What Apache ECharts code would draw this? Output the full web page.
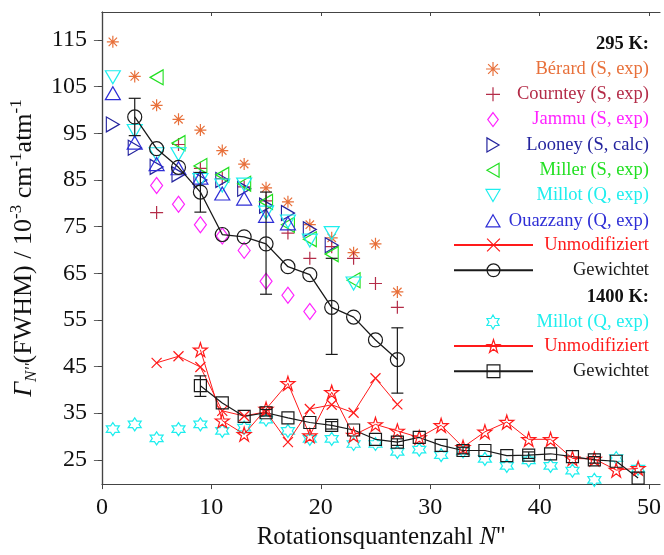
<!DOCTYPE html>
<html><head><meta charset="utf-8">
<script src="https://cdn.jsdelivr.net/npm/echarts@6/dist/echarts.min.js"></script>
<style>html,body{margin:0;padding:0;background:#fff}#c{width:664px;height:555px}</style>
</head><body><div id="c"></div>
<script>
// ---------- ticks ----------
const xTicks = [0, 10, 20, 30, 40, 50];
const yTicks = [25, 35, 45, 55, 65, 75, 85, 95, 105, 115];

// ---------- 295 K ----------
const berardN = [1, 3, 5, 7, 9, 11, 13, 15, 17, 19, 21, 23, 25, 27];
const berardG = [114.6, 107.2, 101.0, 98.0, 95.7, 91.3, 88.4, 83.3, 80.3, 75.4, 72.6, 69.4, 71.3, 61.0];

const courtneyN = [5, 7, 9, 11, 13, 15, 17, 19, 21, 23, 25, 27];
const courtneyG = [78.0, 92.6, 87.5, 85.3, 83.5, 80.5, 73.6, 68.2, 70.7, 68.2, 62.8, 57.7];

const jammuN = [5, 7, 9, 11, 13, 15, 17, 19];
const jammuG = [83.8, 79.8, 75.4, 73.0, 69.9, 63.3, 60.3, 56.8];

const looneyN = [1, 3, 5, 7, 9, 11, 13, 15, 17, 19, 21];
const looneyG = [96.9, 91.9, 87.8, 86.2, 85.0, 85.0, 83.1, 79.5, 77.9, 74.4, 71.0];

const millerN = [5, 7, 9, 11, 13, 15, 17, 19, 21, 23];
const millerG = [107.0, 92.9, 88.0, 86.1, 84.2, 80.3, 75.4, 72.3, 69.1, 63.5];

const millot295N = [1, 3, 5, 7, 9, 11, 13, 15, 17, 19, 21, 23];
const millot295G = [107.0, 95.5, 90.5, 90.5, 85.0, 83.8, 84.0, 78.0, 76.1, 72.0, 73.6, 62.8];

const ouazzanyN = [1, 3, 5, 7, 9, 11, 13, 15, 17];
const ouazzanyG = [103.6, 93.0, 88.4, 87.5, 85.5, 82.1, 81.0, 77.3, 75.7];

const unmod295N = [5, 7, 9, 11, 13, 15, 17, 19, 21, 23, 25, 27];
const unmod295G = [45.8, 47.2, 44.9, 35.5, 34.4, 35.3, 28.8, 35.9, 36.8, 35.1, 42.5, 36.9];

const gew295N = [3, 5, 7, 9, 11, 13, 15, 17, 19, 21, 23, 25, 27];
const gew295G = [98.5, 91.7, 87.7, 82.4, 73.3, 72.8, 71.3, 66.4, 64.7, 57.7, 55.6, 50.7, 46.5];

const gew295ErrN = [3, 9, 15, 21, 27];
const gew295ErrLo = [94.5, 78.1, 60.5, 47.6, 39.3];
const gew295ErrHi = [102.5, 86.6, 82.4, 68.2, 53.3];

// ---------- 1400 K ----------
const millot1400N = [1, 3, 5, 7, 9, 11, 13, 15, 17, 19, 21, 23, 25, 27, 29, 31, 33, 35, 37, 39, 41, 43, 45, 47, 49];
const millot1400G = [31.6, 32.6, 29.6, 31.6, 32.6, 31.2, 31.9, 33.6, 31.2, 29.5, 29.5, 28.4, 28.4, 26.7, 27.2, 26.0, 26.8, 25.2, 23.7, 24.9, 23.7, 22.7, 20.7, 25.4, 23.1];

const unmod1400N = [9, 11, 13, 15, 17, 19, 21, 23, 25, 27, 29, 31, 33, 35, 37, 39, 41, 43, 45, 47, 49];
const unmod1400G = [48.6, 33.4, 30.5, 35.9, 41.4, 30.2, 39.5, 30.3, 32.6, 31.2, 29.8, 32.4, 27.7, 31.0, 33.1, 29.4, 29.4, 25.3, 25.2, 22.8, 23.2];

const gew1400N = [9, 11, 13, 15, 17, 19, 21, 23, 25, 27, 29, 31, 33, 35, 37, 39, 41, 43, 45, 47, 49];
const gew1400G = [40.9, 37.2, 34.3, 35.1, 34.0, 33.0, 32.4, 31.4, 29.4, 28.8, 29.8, 28.1, 27.0, 27.0, 25.9, 26.0, 26.3, 25.7, 25.0, 24.7, 21.1];

const gew1400ErrN = [9, 15, 21, 27, 33, 39, 45];
const gew1400ErrLo = [38.6, 34.4, 31.6, 28.1, 26.3, 25.3, 24.3];
const gew1400ErrHi = [43.0, 35.8, 33.2, 29.5, 27.7, 26.7, 25.7];

// ---------- labels ----------
const labels = {
  berard: 'Bérard (S, exp)',
  courtney: 'Courntey (S, exp)',
  jammu: 'Jammu (S, exp)',
  looney: 'Looney (S, calc)',
  miller: 'Miller (S, exp)',
  millot295: 'Millot (Q, exp)',
  ouazzany: 'Ouazzany (Q, exp)',
  unmod295: 'Unmodifiziert',
  gew295: 'Gewichtet',
  millot1400: 'Millot (Q, exp)',
  unmod1400: 'Unmodifiziert',
  gew1400: 'Gewichtet'
};
const header295 = '295 K:';
const header1400 = '1400 K:';

// ---------- styles ----------
const FONT = 'Liberation Serif';
const col = {
  berard: '#E8703A', courtney: '#B42C48', jammu: '#FF22FF', looney: '#24249E',
  miller: '#22E022', millot295: '#1EEEEE', ouazzany: '#2E2ED6',
  unmod295: '#FF1A1A', gew295: '#1A1A1A', millot1400: '#1EEEEE', unmod1400: '#FF1A1A', gew1400: '#1A1A1A'
};
const SYM = {
  asterisk: 'path://M0,-1L0,1M-1,0L1,0M-0.7,-0.7L0.7,0.7M-0.7,0.7L0.7,-0.7',
  plus: 'path://M0,-1L0,1M-1,0L1,0',
  cross: 'path://M-1,-1L1,1M-1,1L1,-1',
  diamond: 'path://M0,-1L0.75,0L0,1L-0.75,0Z',
  tRight: 'path://M1,0L-0.5,0.866L-0.5,-0.866Z',
  tLeft: 'path://M-1,0L0.5,0.866L0.5,-0.866Z',
  tDown: 'path://M0,1L0.866,-0.5L-0.866,-0.5Z',
  tUp: 'path://M0,-1L0.866,0.5L-0.866,0.5Z',
  hexagram: 'path://M0,-1L0.289,-0.5L0.866,-0.5L0.577,0L0.866,0.5L0.289,0.5L0,1L-0.289,0.5L-0.866,0.5L-0.577,0L-0.866,-0.5L-0.289,-0.5Z',
  pentagram: 'path://M0,-1L0.2245,-0.309L0.951,-0.309L0.363,0.118L0.588,0.809L0,0.382L-0.588,0.809L-0.363,0.118L-0.951,-0.309L-0.2245,-0.309Z'
};
const zip = (xs, ys) => xs.map((x, i) => [x, ys[i]]);
const zip3 = (xs, a, b) => xs.map((x, i) => [x, a[i], b[i]]);
const TR = 'rgba(0,0,0,0)';

function scatter(key, data, symbol, size) {
  return {
    id: key, name: key, type: 'scatter', data: data, symbol: symbol, symbolSize: size,
    itemStyle: { color: TR, borderColor: col[key], borderWidth: 1.2, opacity: 1 },
    emphasis: { disabled: true }, z: 3
  };
}
function lineS(key, data, symbol, size, lw) {
  return {
    id: key, name: key, type: 'line', data: data, symbol: symbol, symbolSize: size, showAllSymbol: true,
    color: col[key],
    lineStyle: { color: col[key], width: lw },
    itemStyle: { color: TR, borderColor: col[key], borderWidth: 1.2 },
    emphasis: { disabled: true }, animation: false, z: 4
  };
}
function errS(key, data) {
  return {
    id: key, name: key, type: 'custom', data: data, z: 5,
    encode: { x: 0, y: [1, 2] },
    renderItem: function (params, api) {
      const x = api.value(0);
      const lo = api.coord([x, api.value(1)]);
      const hi = api.coord([x, api.value(2)]);
      const w = 6;
      const st = { stroke: '#1A1A1A', lineWidth: 1.2 };
      return { type: 'group', children: [
        { type: 'line', shape: { x1: lo[0], y1: lo[1], x2: hi[0], y2: hi[1] }, style: st },
        { type: 'line', shape: { x1: lo[0] - w, y1: lo[1], x2: lo[0] + w, y2: lo[1] }, style: st },
        { type: 'line', shape: { x1: hi[0] - w, y1: hi[1], x2: hi[0] + w, y2: hi[1] }, style: st }
      ]};
    }
  };
}

const series = [
  scatter('berard', zip(berardN, berardG), SYM.asterisk, 12),
  scatter('courtney', zip(courtneyN, courtneyG), SYM.plus, 13),
  scatter('jammu', zip(jammuN, jammuG), SYM.diamond, [12, 16]),
  scatter('looney', zip(looneyN, looneyG), SYM.tRight, [13, 15]),
  scatter('miller', zip(millerN, millerG), SYM.tLeft, [13, 15]),
  scatter('millot295', zip(millot295N, millot295G), SYM.tDown, [15, 13]),
  scatter('ouazzany', zip(ouazzanyN, ouazzanyG), SYM.tUp, [15, 13]),
  lineS('unmod295', zip(unmod295N, unmod295G), SYM.cross, 10, 1),
  lineS('gew295', zip(gew295N, gew295G), 'circle', 14, 1.3),
  errS('gew295err', zip3(gew295ErrN, gew295ErrLo, gew295ErrHi)),
  scatter('millot1400', zip(millot1400N, millot1400G), SYM.hexagram, 13),
  lineS('unmod1400', zip(unmod1400N, unmod1400G), SYM.pentagram, 14, 1),
  lineS('gew1400', zip(gew1400N, gew1400G), 'rect', 12, 1.2),
  errS('gew1400err', zip3(gew1400ErrN, gew1400ErrLo, gew1400ErrHi))
];

// legend helpers
const keyIndex = Object.keys(labels);
const rich = {};
keyIndex.forEach((k, i) => {
  rich['k' + i] = { color: col[k], fontFamily: FONT, fontSize: 18.5, lineHeight: 20, align: 'right' };
});
function legendFor(keys, top, iw, ih, tw) {
  const r = {};
  keys.forEach(k => { const i = keyIndex.indexOf(k); r['k' + i] = Object.assign({}, rich['k' + i], { width: tw }); });
  return {
    orient: 'vertical', right: 15, top: top, padding: 0, itemGap: 5.3,
    itemWidth: iw, itemHeight: ih, selectedMode: false,
    data: keys.map(k => ({ name: k, itemStyle: { color: TR, borderColor: col[k], borderWidth: 1.2 }, lineStyle: { color: col[k] } })),
    formatter: name => '{k' + keyIndex.indexOf(name) + '|' + labels[name] + '}',
    textStyle: { fontFamily: FONT, fontSize: 18.5, lineHeight: 20, rich: r }
  };
}

const axisCol = '#444';
const option = {
  animation: false,
  backgroundColor: '#fff',
  grid: { left: 99, right: 4, top: 12, bottom: 62, containLabel: false },
  title: [
    { text: header295, right: 15, top: 34, padding: 0,
      textStyle: { fontFamily: FONT, fontSize: 18.5, fontWeight: 'bold', color: '#111', lineHeight: 20 } },
    { text: header1400, right: 15, top: 287, padding: 0,
      textStyle: { fontFamily: FONT, fontSize: 18.5, fontWeight: 'bold', color: '#111', lineHeight: 20 } }
  ],
  legend: [
    legendFor(['berard', 'courtney', 'jammu', 'looney', 'miller', 'millot295', 'ouazzany'], 59, 14, 14, 144),
    legendFor(['unmod295', 'gew295'], 235, 79, 16, 111),
    legendFor(['millot1400'], 312, 14, 14, 144),
    legendFor(['unmod1400', 'gew1400'], 336, 79, 16, 111)
  ],
  xAxis: [
    { type: 'value', min: 0, max: 51, position: 'bottom',
      axisLine: { show: true, lineStyle: { color: axisCol, width: 1.2 } },
      axisTick: { show: true, inside: false, length: 5, customValues: xTicks, lineStyle: { color: axisCol } },
      axisLabel: { customValues: xTicks, fontFamily: FONT, fontSize: 24, color: '#111', margin: 12 },
      splitLine: { show: false },
      name: '{n|Rotationsquantenzahl }{i|N}{n|\'\'}', nameLocation: 'middle', nameGap: 36,
      nameTextStyle: { fontFamily: FONT, fontSize: 25, color: '#111',
        rich: { n: { fontFamily: FONT, fontSize: 25, color: '#111' }, i: { fontFamily: FONT, fontSize: 25, fontStyle: 'italic', color: '#111' } } }
    },
    { type: 'value', min: 0, max: 51, position: 'top',
      axisLine: { show: true, lineStyle: { color: axisCol, width: 1.2 } },
      axisTick: { show: true, inside: true, length: 4, customValues: xTicks, lineStyle: { color: axisCol } },
      axisLabel: { show: false }, splitLine: { show: false } }
  ],
  yAxis: [
    { type: 'value', min: 19.8, max: 121, position: 'left',
      axisLine: { show: true, lineStyle: { color: '#666', width: 1.2 } },
      axisTick: { show: true, inside: false, length: 8, customValues: yTicks, lineStyle: { color: '#666' } },
      axisLabel: { customValues: yTicks, fontFamily: FONT, fontSize: 24, color: '#111', margin: 15 },
      splitLine: { show: false },
      name: '{g|Γ}{s|N\'\'}{t|(FWHM) / 10}{p|-3}{t| cm}{p|-1}{t|atm}{p|-1}',
      nameLocation: 'middle', nameRotate: 90, nameGap: 38,
      nameTextStyle: { fontFamily: FONT, fontSize: 26, color: '#111',
        rich: {
          g: { fontFamily: FONT, fontSize: 26, fontStyle: 'italic', color: '#111', lineHeight: 32, verticalAlign: 'middle' },
          t: { fontFamily: FONT, fontSize: 26, color: '#111', lineHeight: 32, verticalAlign: 'middle' },
          s: { fontFamily: FONT, fontSize: 17, fontStyle: 'italic', color: '#111', verticalAlign: 'bottom' },
          p: { fontFamily: FONT, fontSize: 17, color: '#111', verticalAlign: 'top' }
        } }
    },
    { type: 'value', min: 19.8, max: 121, position: 'right',
      axisLine: { show: true, lineStyle: { color: axisCol, width: 1.2 } },
      axisTick: { show: true, inside: true, length: 4, customValues: yTicks, lineStyle: { color: axisCol } },
      axisLabel: { show: false }, splitLine: { show: false } }
  ],
  series: series
};

const chart = echarts.init(document.getElementById('c'), null, { renderer: 'canvas' });
chart.setOption(option);
</script>
</body></html>
